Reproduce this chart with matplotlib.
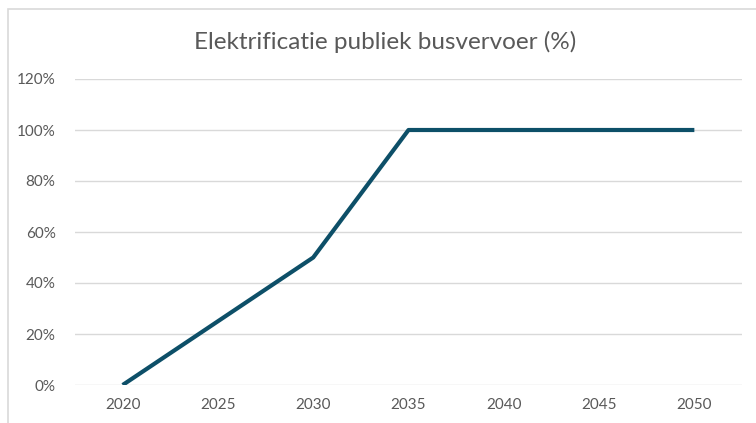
import matplotlib.pyplot as plt
from matplotlib.patches import Rectangle

years = [2020, 2025, 2030, 2035, 2040, 2045, 2050]
share = [0, 25, 50, 100, 100, 100, 100]
yticks = [0, 20, 40, 60, 80, 100, 120]

plt.rcParams['font.family'] = ['Lato', 'DejaVu Sans']

fig = plt.figure(figsize=(7.56, 4.23), dpi=100)
ax = fig.add_axes([75 / 756, 1 - 385 / 423, 667 / 756, 306 / 423])

# chart border (cropped at right and bottom)
fig.patches.append(Rectangle((8 / 756, -0.1), 1.2, 1 - 9 / 423 + 0.1,
                             transform=fig.transFigure, fill=False,
                             edgecolor='#D9D9D9', linewidth=1.2))

ax.plot(years, share, color='#0D4F68', linewidth=3, solid_capstyle='butt', zorder=3)

ax.set_xlim(2017.5, 2052.5)
ax.set_ylim(0, 120)
ax.set_xticks(years)
ax.set_yticks(yticks)
ax.set_yticklabels([f"{v}%" for v in yticks])
ax.grid(axis='y', color='#D9D9D9', linewidth=1)
for s in ax.spines.values():
    s.set_visible(False)
ax.tick_params(length=0, labelsize=11, colors='#595959', pad=9)
ax.tick_params(axis='y', pad=14)

fig.text(385 / 756, 1 - 42 / 423, "Elektrificatie publiek busvervoer (%)",
         ha='center', va='center', fontsize=17.5, color='#595959')

fig.savefig("out.png", dpi=100)
